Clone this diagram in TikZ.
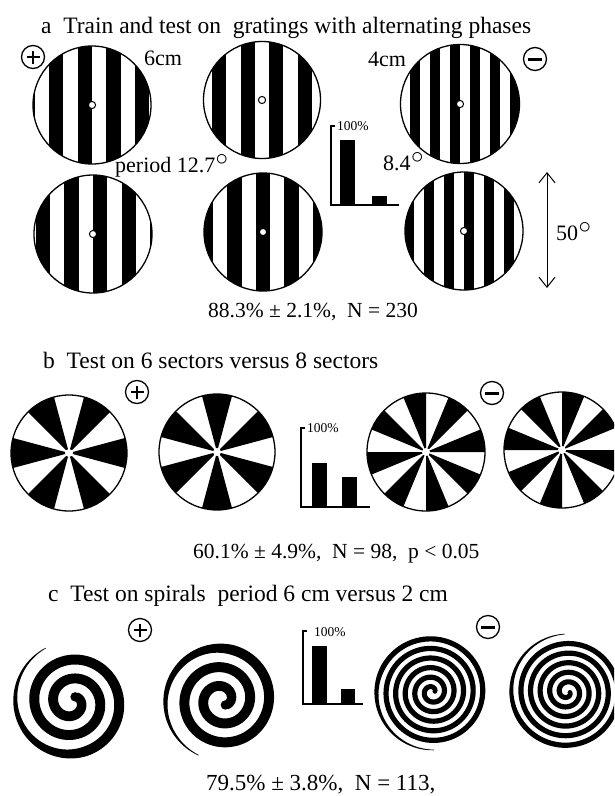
\documentclass[tikz,border=0pt]{standalone}
\usepackage{fontspec}
\setmainfont{Liberation Serif}
\usetikzlibrary{arrows.meta}
\tikzset{
  ttl/.style={font=\fontsize{23.5}{26}\selectfont, inner sep=0pt, anchor=base west},
  captext/.style={font=\fontsize{21.5}{24}\selectfont, inner sep=0pt, anchor=base west},
  captextc/.style={font=\fontsize{23}{25}\selectfont, inner sep=0pt, anchor=base west},
  lbl/.style={font=\fontsize{22}{24}\selectfont, inner sep=0pt, anchor=base west},
  pct/.style={font=\fontsize{13.5}{15}\selectfont, inner sep=0pt, anchor=west},
  rim/.style={draw=black, line width=1.3pt},
  axisline/.style={line width=1.2pt},
  sign/.style={circle, draw, line width=1.3pt, minimum size=23pt, inner sep=0pt},
  dbl/.style={{Straight Barb[length=10pt,width=16pt]}-{Straight Barb[length=10pt,width=16pt]}, line width=1pt},
}
\newcommand\degr{\kern0.3pt\raisebox{6.5pt}{\fontsize{24}{24}\selectfont$\circ$}}
% grating: cx, cy, r, period, offset of a black stripe's left edge from centre
\newcommand\grating[5]{%
  \begin{scope}
    \clip (#1,#2) circle[radius=#3];
    \foreach \k in {-8,...,8} \fill ({#1+#5+\k*#4},{#2-#3}) rectangle ++({#4/2},{2*#3});
  \end{scope}
  \draw[rim] (#1,#2) circle[radius=#3];
  \filldraw[fill=white, draw=black, line width=1pt] (#1,#2) circle[radius=3.6];
}
% wheel: cx, cy, r, sector width, list of start angles of black sectors
\newcommand\wheel[5]{%
  \foreach \a in {#5} \fill (#1,#2) -- ++(\a:#3) arc[start angle=\a, end angle=\a+#4, radius=#3] -- cycle;
  \draw[rim] (#1,#2) circle[radius=#3];
  \fill[white] (#1,#2) circle[radius=4];
}
% spiral: cx, cy, period, width, r0, Phi, alpha, sense, taper
\newcommand\spiral[9]{%
  \fill plot[domain=0:#6, samples=500, variable=\t]
    ({#1+(#5+#3*(\t/360)+(#4/2)*(1-max(0,(\t-#6+#9)/#9))+0.3)*cos(#7+#8*\t)},
     {#2+(#5+#3*(\t/360)+(#4/2)*(1-max(0,(\t-#6+#9)/#9))+0.3)*sin(#7+#8*\t)})
    -- plot[domain=#6:0, samples=500, variable=\t]
    ({#1+(#5+#3*(\t/360)-(#4/2)*(1-max(0,(\t-#6+#9)/#9))-0.3)*cos(#7+#8*\t)},
     {#2+(#5+#3*(\t/360)-(#4/2)*(1-max(0,(\t-#6+#9)/#9))-0.3)*sin(#7+#8*\t)})
    -- cycle;
  \fill ({#1+#5*cos(#7)},{#2+#5*sin(#7)}) circle[radius=#4/2];
}
\newcommand\plussign[1]{%
  \draw[line width=2pt] ([xshift=-6.5pt]#1.center) -- ([xshift=6.5pt]#1.center);
  \draw[line width=2pt] ([yshift=-6.5pt]#1.center) -- ([yshift=6.5pt]#1.center);
}
\newcommand\minussign[1]{%
  \draw[line width=3pt] ([xshift=-7pt]#1.center) -- ([xshift=7pt]#1.center);
}
\begin{document}
\begin{tikzpicture}[x=1pt,y=-1pt]
\useasboundingbox (0,0) rectangle (614,796);
\clip (0,0) rectangle (614,796);

% ---------------- panel a ----------------
\node[ttl] (ta) at (41,33) {a\ \ Train and test on\ \ gratings with alternating phases};
\grating{92}{105}{59}{28.6}{-14.3}
\grating{262}{100}{58.5}{28.6}{7.15}
\grating{460}{104}{59.5}{20}{-10}
\grating{93}{234}{59}{28.6}{0}
\grating{263}{232}{59}{28.6}{-7.15}
\grating{464}{231}{59}{20}{0}

\node[sign] (pa) at (33,57) {}; \plussign{pa}
\node[sign] (ma) at (535,59) {}; \minussign{ma}

\node[lbl] (l6) at (144,65) {6cm};
\node[lbl] (l4) at (368,66) {4cm};
\node[lbl] (lp) at (115,172) {period 12.7\degr};
\node[lbl] (l84) at (383,170) {8.4\degr};
\node[lbl] (l50) at (556,240) {50\degr};

\coordinate (aa1) at (547,172);
\coordinate (aa2) at (547,288);
\draw[dbl] (aa1) -- (aa2);

% bar chart a
\draw[axisline] (335,126) -- (331,126) -- (331,205) -- (399,205);
\node[pct] (pcta) at (337,126.5) {100\%};
\fill (340,140) rectangle (355,205);
\fill (372,196) rectangle (387,205);

\node[captext] (ca) at (208,317) {88.3\% ± 2.1\%,\ \ N = 230};

% ---------------- panel b ----------------
\node[ttl] (tb) at (43,368) {b\ \ Test on 6 sectors versus 8 sectors};
\wheel{69}{453}{58}{30}{-15,45,105,165,225,285}
\wheel{217}{452}{58}{30}{15,75,135,195,255,315}
\wheel{426}{452}{59}{22.5}{-22.5,22.5,67.5,112.5,157.5,202.5,247.5,292.5}
\wheel{562}{450}{58}{22.5}{0,45,90,135,180,225,270,315}

\node[sign] (pb) at (137,392) {}; \plussign{pb}
\node[sign] (mb) at (492,393) {}; \minussign{mb}

% bar chart b
\draw[axisline] (305,428) -- (301,428) -- (301,507) -- (370,507);
\node[pct] (pctb) at (307,428) {100\%};
\fill (312,463) rectangle (327,507);
\fill (342,477) rectangle (357,507);

\node[captext] (cb) at (193,558) {60.1\% ± 4.9\%,\ \ N = 98,\ \ p < 0.05};

% ---------------- panel c ----------------
\node[ttl] (tc) at (48,601) {c\ \ Test on spirals\ \ period 6 cm versus 2 cm};
\spiral{72}{702}{19}{9.4}{6}{1023}{-779}{1}{170}
\spiral{222}{700}{19}{9.4}{6}{1023}{1136}{-1}{170}
\spiral{432}{692}{9.6}{4.6}{3}{2062}{2150}{-1}{120}
\spiral{567}{692}{9.6}{4.6}{3}{2062}{-1794}{1}{120}

\node[sign] (pc) at (140,630) {}; \plussign{pc}
\node[sign] (mc) at (488,627) {}; \minussign{mc}

% bar chart c
\draw[axisline] (307,631) -- (303,631) -- (303,704) -- (363,704);
\node[pct] (pctc) at (314,632) {100\%};
\fill (312,646) rectangle (327,704);
\fill (341,689) rectangle (355,704);

\node[captextc] (cc) at (206,790) {79.5\% ± 3.8\%,\ \ N = 113,};
\end{tikzpicture}
\end{document}
